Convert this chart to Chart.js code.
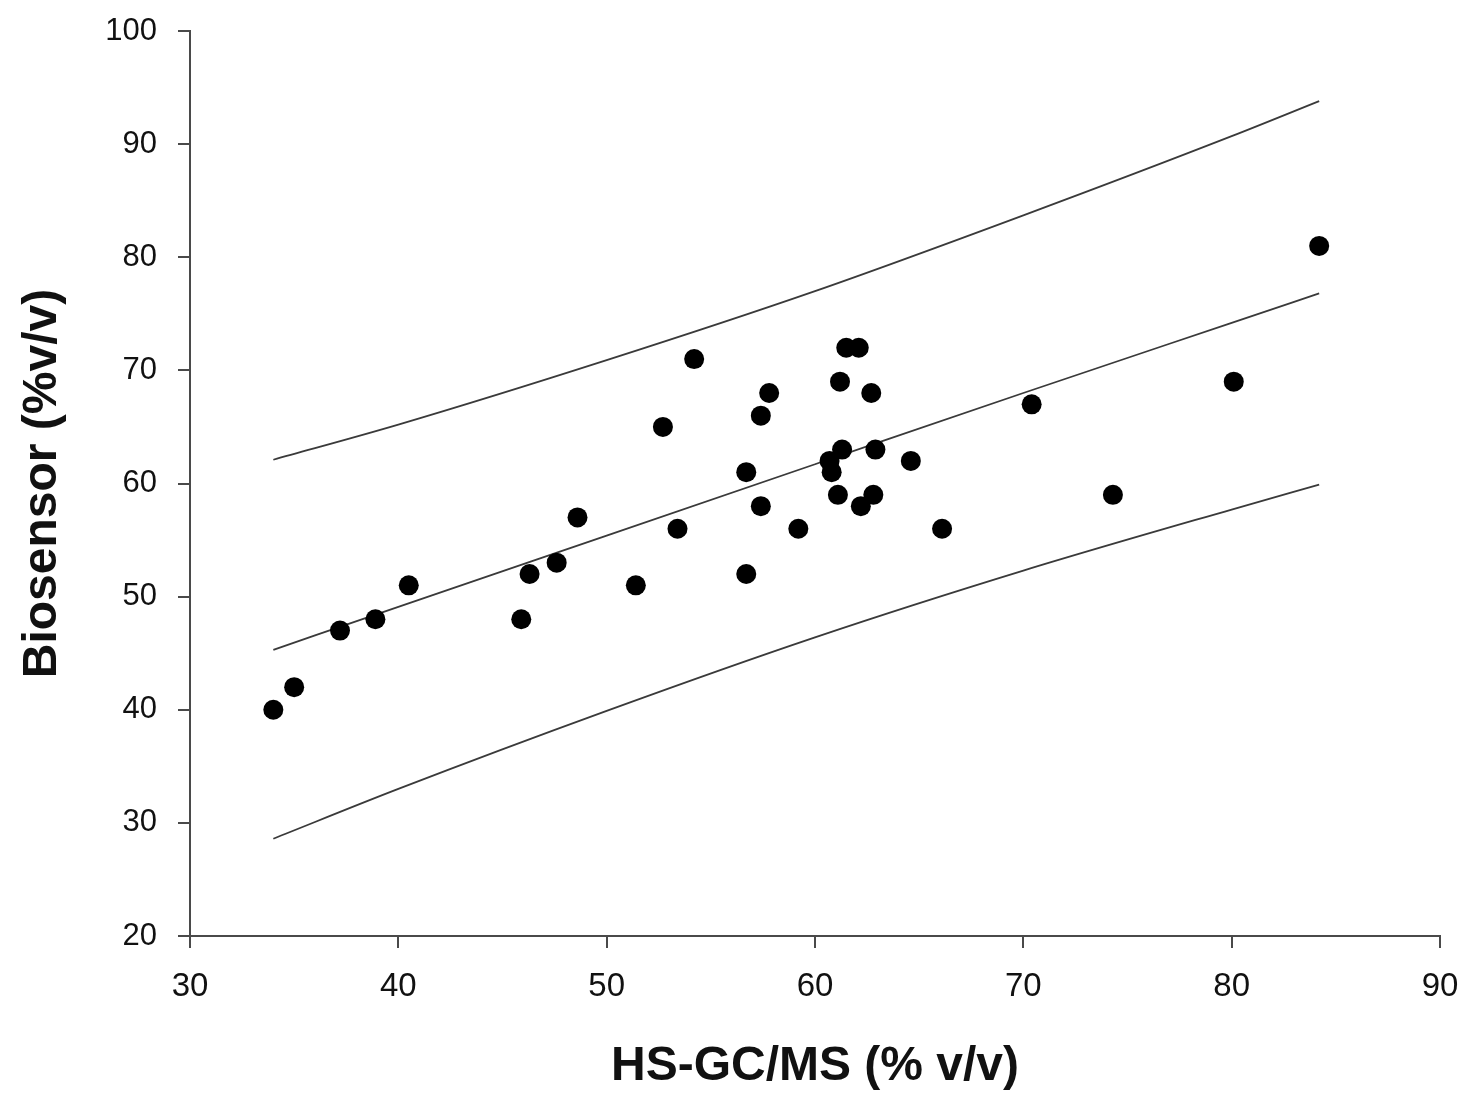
<!DOCTYPE html>
<html>
<head>
<meta charset="utf-8">
<script src="https://cdn.jsdelivr.net/npm/chart.js@4/dist/chart.umd.min.js"></script>
<style>
  html, body { margin: 0; padding: 0; background: #ffffff; }
  #wrap { width: 1480px; height: 1102px; }
</style>
</head>
<body>
<div id="wrap"><canvas id="c" width="1480" height="1102"></canvas></div>
<script>
// Measured points: HS-GC/MS (x) vs Biosensor (y)
const hsgcms = [34.0, 35.0, 37.2, 38.9, 40.5, 45.9, 46.3, 47.6, 48.6, 51.4, 52.7, 53.4, 54.2,
  56.7, 56.7, 57.4, 57.4, 57.8, 59.2, 60.7, 60.8, 61.1, 61.2, 61.3, 61.5, 62.1, 62.2, 62.7,
  62.8, 62.9, 64.6, 66.1, 70.4, 74.3, 80.1, 84.2];
const biosensor = [40, 42, 47, 48, 51, 48, 52, 53, 57, 51, 65, 56, 71,
  61, 52, 66, 58, 68, 56, 62, 61, 59, 69, 63, 72, 72, 58, 68,
  59, 63, 62, 56, 67, 59, 69, 81];

// Regression line and prediction band, read at several x positions
const lineX = [34, 40, 50, 60, 70, 80, 84.2];
const fitY = [45.3, 49.1, 55.4, 61.7, 68.0, 74.2, 76.8];
const upperY = [62.1, 65.2, 70.9, 77.0, 83.7, 90.7, 93.8];
const lowerY = [28.6, 33.0, 39.9, 46.4, 52.3, 57.7, 59.9];

// Axis ticks
const xTicks = [30, 40, 50, 60, 70, 80, 90];
const yTicks = [20, 30, 40, 50, 60, 70, 80, 90, 100];

const xTitle = 'HS-GC/MS (% v/v)';
const yTitle = 'Biosensor (%v/v)';

const pts = hsgcms.map((x, i) => ({ x: x, y: biosensor[i] }));
const mk = (ys) => lineX.map((x, i) => ({ x: x, y: ys[i] }));

const FONT = '"Liberation Sans", Arial, Helvetica, sans-serif';
const AXC = '#4a4a4a';

const lineDs = (data) => ({
  type: 'line', data: data, showLine: true, borderColor: '#3a3a3a', borderWidth: 1.8,
  pointRadius: 0, fill: false, cubicInterpolationMode: 'monotone', order: 2
});

new Chart(document.getElementById('c'), {
  type: 'scatter',
  data: {
    datasets: [
      { data: pts, backgroundColor: '#000000', borderColor: '#000000', borderWidth: 0,
        pointRadius: 10, pointHoverRadius: 10, order: 1 },
      lineDs(mk(fitY)),
      lineDs(mk(upperY)),
      lineDs(mk(lowerY))
    ]
  },
  options: {
    responsive: false,
    animation: false,
    layout: { padding: { left: 0, right: 40, top: 31, bottom: 0 } },
    plugins: { legend: { display: false }, tooltip: { enabled: false } },
    scales: {
      x: {
        type: 'linear', min: 30, max: 90,
        afterBuildTicks: (s) => { s.ticks = xTicks.map(v => ({ value: v })); },
        afterFit: (s) => { s.height = 166; s.paddingLeft = 0; s.paddingRight = 0; },
        grid: { display: true, drawOnChartArea: false, drawTicks: true, tickLength: 12, color: AXC, lineWidth: 2 },
        border: { display: true, color: AXC, width: 2 },
        ticks: { color: '#111', padding: 19, font: { family: FONT, size: 33 } },
        title: { display: true, text: xTitle, color: '#111', padding: { top: 0, bottom: 6 },
          font: { family: FONT, size: 48, weight: 'bold' } }
      },
      y: {
        type: 'linear', min: 20, max: 100,
        afterBuildTicks: (s) => { s.ticks = yTicks.map(v => ({ value: v })); },
        afterFit: (s) => { s.width = 190; s.paddingTop = 0; s.paddingBottom = 0; },
        grid: { display: true, drawOnChartArea: false, drawTicks: true, tickLength: 12, color: AXC, lineWidth: 2 },
        border: { display: true, color: AXC, width: 2 },
        ticks: { color: '#111', padding: 21, font: { family: FONT, size: 31 } },
        title: { display: true, text: yTitle, color: '#111', padding: { top: 14, bottom: 0 },
          font: { family: FONT, size: 48, weight: 'bold' } }
      }
    }
  }
});
</script>
</body>
</html>
